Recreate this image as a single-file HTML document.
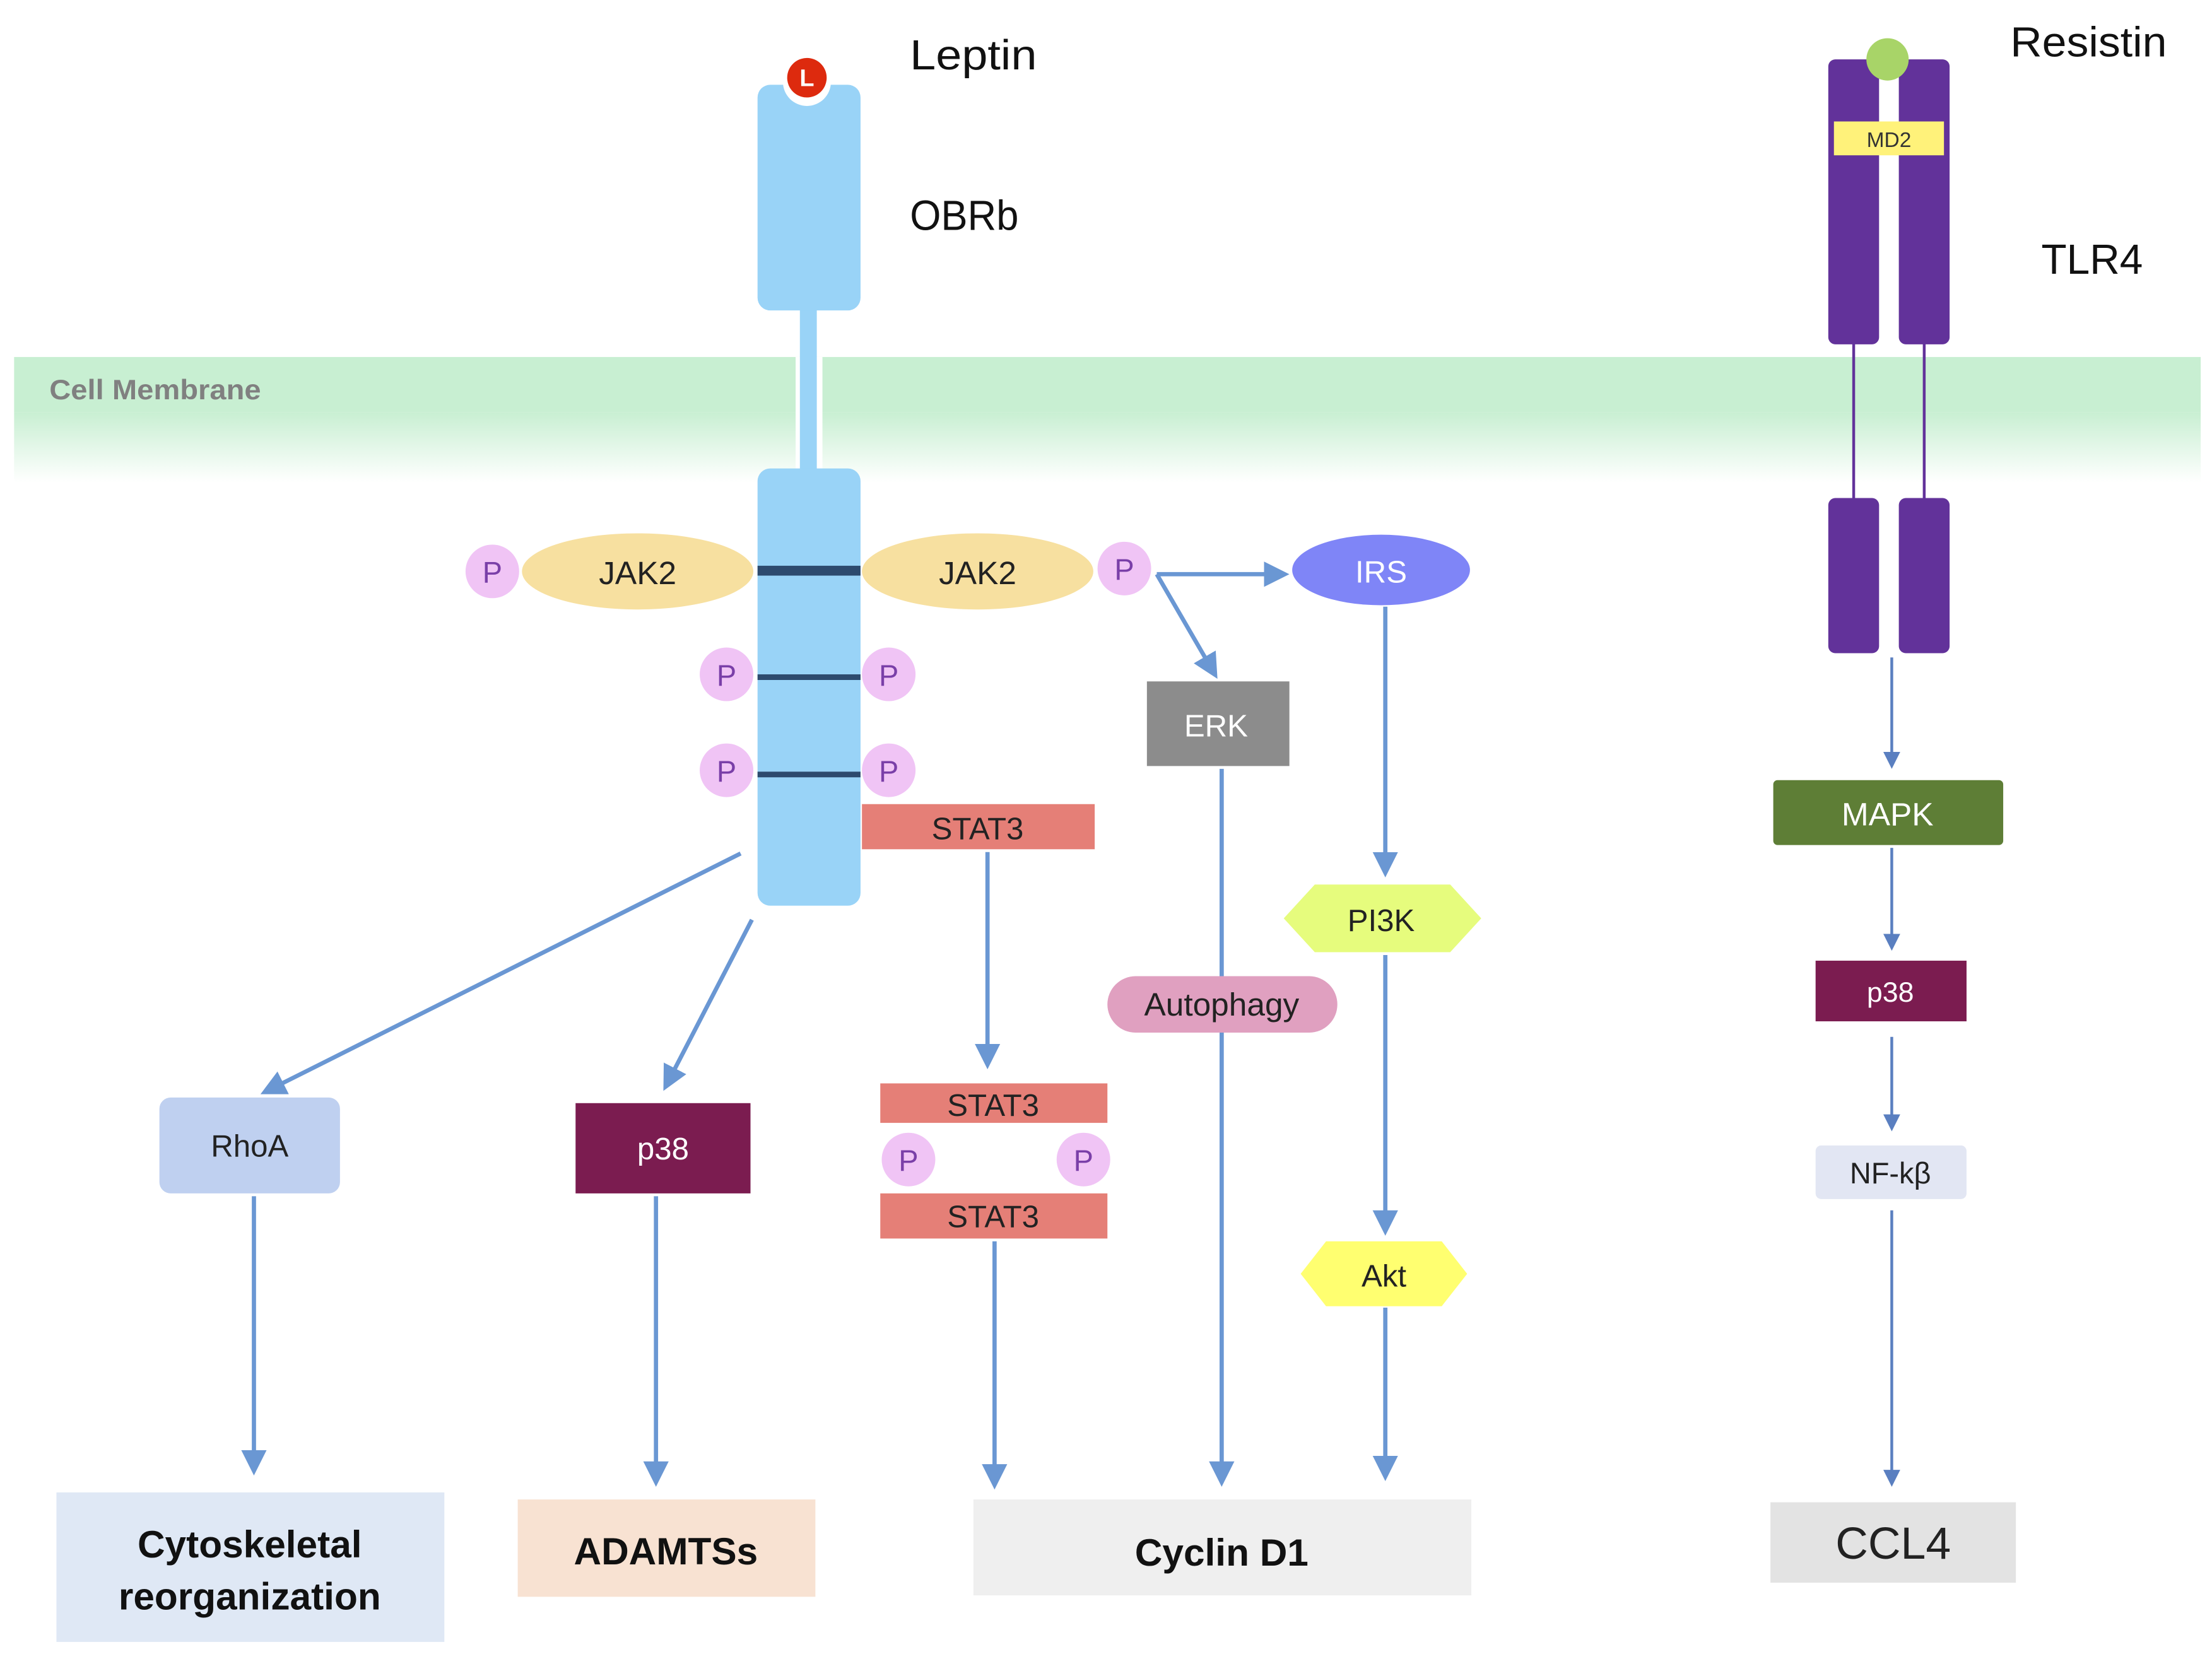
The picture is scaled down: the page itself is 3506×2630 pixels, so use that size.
<!DOCTYPE html>
<html><head><meta charset="utf-8"><style>
html,body{margin:0;padding:0;background:#fff;}
svg{display:block;}
text{font-family:"Liberation Sans",sans-serif;}
</style></head><body>
<svg width="3506" height="2630" viewBox="0 0 1568 1176" xmlns="http://www.w3.org/2000/svg">
<defs>
<linearGradient id="mg" x1="0" y1="0" x2="0" y2="1">
<stop offset="0" stop-color="#c8efd2"/><stop offset="1" stop-color="#ffffff"/>
</linearGradient>
<marker id="ah" markerWidth="6" markerHeight="6" refX="4" refY="3" orient="auto" markerUnits="strokeWidth">
<path d="M0,0 L6,3 L0,6 Z" fill="#6a97d3"/></marker>
<marker id="ah2" markerWidth="6" markerHeight="6" refX="4" refY="3" orient="auto" markerUnits="strokeWidth">
<path d="M0,0 L6,3 L0,6 Z" fill="#5a7fc0"/></marker>
</defs>
<rect width="1568" height="1176" fill="#fff"/>
<!-- membrane -->
<rect x="10" y="253" width="1550" height="39" fill="#c8efd2"/>
<rect x="10" y="292" width="1550" height="50" fill="url(#mg)"/>
<rect x="564" y="253" width="19" height="90" fill="#fff"/>
<text x="35" y="283" font-size="20" font-weight="bold" fill="#808080" textLength="150" lengthAdjust="spacingAndGlyphs">Cell Membrane</text>
<!-- OBRb -->
<rect x="567" y="215" width="12" height="122" fill="#99d3f7"/>
<rect x="537" y="60" width="73" height="160" rx="9" fill="#99d3f7"/>
<circle cx="572" cy="58" r="17" fill="#fff"/>
<circle cx="572" cy="55" r="14" fill="#dd2a0e"/>
<text x="572" y="61" font-size="17" font-weight="bold" fill="#fff" text-anchor="middle">L</text>
<rect x="537" y="332" width="73" height="310" rx="9" fill="#99d3f7"/>
<rect x="537" y="401" width="73" height="7" fill="#2d4a6e"/>
<rect x="537" y="478" width="73" height="4" fill="#2d4a6e"/>
<rect x="537" y="547" width="73" height="4" fill="#2d4a6e"/>
<text x="645" y="49" font-size="30" fill="#111" textLength="90" lengthAdjust="spacingAndGlyphs">Leptin</text>
<text x="645" y="163" font-size="30" fill="#111" textLength="77" lengthAdjust="spacingAndGlyphs">OBRb</text>
<!-- arrows left (behind nodes) -->
<g stroke="#6a97d3" stroke-width="3" fill="none" marker-end="url(#ah)">
<line x1="525" y1="605" x2="190" y2="773"/>
<line x1="533" y1="652" x2="473" y2="768"/>
<line x1="180" y1="848" x2="180" y2="1040"/>
<line x1="465" y1="848" x2="465" y2="1048"/>
<line x1="700" y1="604" x2="700" y2="752"/>
<line x1="705" y1="880" x2="705" y2="1050"/>
<line x1="866" y1="545" x2="866" y2="1048"/>
<line x1="982" y1="430" x2="982" y2="616"/>
<line x1="982" y1="677" x2="982" y2="870"/>
<line x1="982" y1="927" x2="982" y2="1044"/>
<line x1="820" y1="407" x2="908" y2="407"/>
<line x1="820" y1="407" x2="860" y2="476"/>
</g>
<!-- JAK2 -->
<ellipse cx="452" cy="405" rx="82" ry="27" fill="#f7e0a0"/>
<ellipse cx="693" cy="405" rx="82" ry="27" fill="#f7e0a0"/>
<text x="452" y="414" font-size="23" text-anchor="middle" fill="#222">JAK2</text>
<text x="693" y="414" font-size="23" text-anchor="middle" fill="#222">JAK2</text>
<g fill="#f0c4f5">
<circle cx="349" cy="405" r="19"/><circle cx="797" cy="403" r="19"/>
<circle cx="515" cy="478" r="19"/><circle cx="630" cy="478" r="19"/>
<circle cx="515" cy="546" r="19"/><circle cx="630" cy="546" r="19"/>
<circle cx="644" cy="822" r="19"/><circle cx="768" cy="822" r="19"/>
</g>
<g font-size="21" fill="#7a3fa8" text-anchor="middle">
<text x="349" y="413">P</text><text x="797" y="411">P</text>
<text x="515" y="486">P</text><text x="630" y="486">P</text>
<text x="515" y="554">P</text><text x="630" y="554">P</text>
<text x="644" y="830">P</text><text x="768" y="830">P</text>
</g>
<!-- STAT3 -->
<rect x="611" y="570" width="165" height="32" fill="#e57f77"/>
<text x="693" y="595" font-size="22" text-anchor="middle" fill="#222">STAT3</text>
<rect x="624" y="768" width="161" height="28" fill="#e57f77"/>
<text x="704" y="791" font-size="22" text-anchor="middle" fill="#222">STAT3</text>
<rect x="624" y="846" width="161" height="32" fill="#e57f77"/>
<text x="704" y="870" font-size="22" text-anchor="middle" fill="#222">STAT3</text>
<!-- IRS -->
<ellipse cx="979" cy="404" rx="63" ry="25" fill="#7f85f7"/>
<text x="979" y="413" font-size="22" text-anchor="middle" fill="#fff">IRS</text>
<!-- ERK -->
<rect x="813" y="483" width="101" height="60" fill="#8c8c8c"/>
<text x="862" y="522" font-size="22" text-anchor="middle" fill="#fff">ERK</text>
<!-- PI3K -->
<polygon points="910,651 932,627 1028,627 1050,651 1028,675 932,675" fill="#e6fc7d"/>
<text x="979" y="660" font-size="22" text-anchor="middle" fill="#222">PI3K</text>
<polygon points="922,903 940,880 1022,880 1040,903 1022,926 940,926" fill="#ffff70"/>
<text x="981" y="912" font-size="22" text-anchor="middle" fill="#222">Akt</text>
<rect x="785" y="692" width="163" height="40" rx="20" fill="#e0a0c0"/>
<text x="866" y="720" font-size="23" text-anchor="middle" fill="#222">Autophagy</text>
<!-- RhoA, p38 -->
<rect x="113" y="778" width="128" height="68" rx="8" fill="#bfd0f0"/>
<text x="177" y="820" font-size="22" text-anchor="middle" fill="#222">RhoA</text>
<rect x="408" y="782" width="124" height="64" fill="#7b1c50"/>
<text x="470" y="822" font-size="22" text-anchor="middle" fill="#fff">p38</text>
<!-- bottom boxes -->
<rect x="40" y="1058" width="275" height="106" fill="#dfe8f5"/>
<text x="177" y="1104" font-size="27" font-weight="bold" text-anchor="middle" fill="#111">Cytoskeletal</text>
<text x="177" y="1141" font-size="27" font-weight="bold" text-anchor="middle" fill="#111">reorganization</text>
<rect x="367" y="1063" width="211" height="69" fill="#f8e2d2"/>
<text x="472" y="1109" font-size="27" font-weight="bold" text-anchor="middle" fill="#111">ADAMTSs</text>
<rect x="690" y="1063" width="353" height="68" fill="#efefef"/>
<text x="866" y="1110" font-size="27" font-weight="bold" text-anchor="middle" fill="#111">Cyclin D1</text>
<rect x="1255" y="1065" width="174" height="57" fill="#e3e3e3"/>
<text x="1342" y="1105" font-size="32" text-anchor="middle" fill="#222">CCL4</text>
<!-- TLR4 -->
<line x1="1314" y1="240" x2="1314" y2="358" stroke="#62329a" stroke-width="2"/>
<line x1="1364" y1="240" x2="1364" y2="358" stroke="#62329a" stroke-width="2"/>
<g fill="#62329a">
<rect x="1296" y="42" width="36" height="202" rx="5"/>
<rect x="1346" y="42" width="36" height="202" rx="5"/>
<rect x="1296" y="353" width="36" height="110" rx="5"/>
<rect x="1346" y="353" width="36" height="110" rx="5"/>
</g>
<circle cx="1338" cy="42" r="15" fill="#a8d468"/>
<rect x="1300" y="86" width="78" height="24" fill="#fff27a"/>
<text x="1339" y="104" font-size="15" text-anchor="middle" fill="#333">MD2</text>
<text x="1425" y="40" font-size="30" fill="#111" textLength="111" lengthAdjust="spacingAndGlyphs">Resistin</text>
<text x="1447" y="194" font-size="30" fill="#111" textLength="72" lengthAdjust="spacingAndGlyphs">TLR4</text>
<rect x="1257" y="553" width="163" height="46" rx="3" fill="#5e7e36"/>
<text x="1338" y="585" font-size="23" text-anchor="middle" fill="#fff">MAPK</text>
<rect x="1287" y="681" width="107" height="43" fill="#7b1c50"/>
<text x="1340" y="710" font-size="20" text-anchor="middle" fill="#fff">p38</text>
<rect x="1287" y="812" width="107" height="38" rx="4" fill="#e2e6f3"/>
<text x="1340" y="839" font-size="21" text-anchor="middle" fill="#222">NF-kβ</text>
<g stroke="#5a7fc0" stroke-width="2" fill="none" marker-end="url(#ah2)">
<line x1="1341" y1="466" x2="1341" y2="541"/>
<line x1="1341" y1="601" x2="1341" y2="670"/>
<line x1="1341" y1="735" x2="1341" y2="798"/>
<line x1="1341" y1="858" x2="1341" y2="1050"/>
</g>
</svg>
</body></html>
